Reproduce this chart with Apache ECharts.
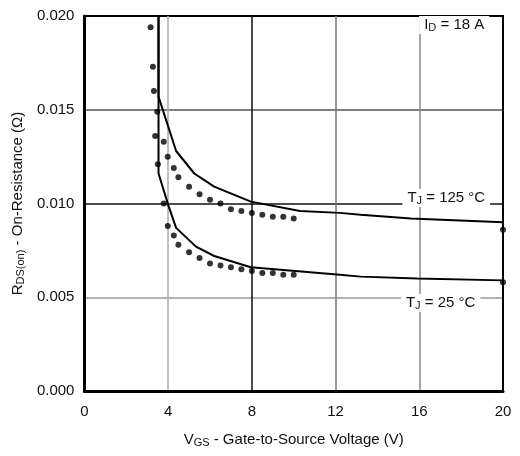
<!DOCTYPE html>
<html><head><meta charset="utf-8">
<script src="https://cdn.jsdelivr.net/npm/echarts@6/dist/echarts.min.js"></script>
<style>html,body{margin:0;padding:0;background:#fff}#c{width:520px;height:456px}</style>
</head><body><div id="c"></div>
<script>
// Tick values
var xTicks = [0, 4, 8, 12, 16, 20];
var yTicks = [0.000, 0.005, 0.010, 0.015, 0.020];
// Typical curves [VGS (V), RDS(on) (ohm)]
var curve125 = [[3.54,0.0200],[3.54,0.0157],[4.38,0.0128],[5.25,0.0116],[6.2,0.0109],[7.95,0.0101],[10.3,0.0096],[12.2,0.0095],[13.2,0.0094],[15.6,0.0092],[20,0.0090]];
var curve25 = [[3.54,0.0200],[3.54,0.0116],[4.01,0.0099],[4.38,0.0087],[5.33,0.0077],[6.2,0.0072],[7.95,0.0066],[12.2,0.0062],[13.2,0.0061],[15.9,0.0060],[20,0.0059]];
// Measured points
var dots125 = [[3.16,0.0194],[3.27,0.0173],[3.32,0.0160],[3.48,0.0149],[3.38,0.0136],[3.79,0.0133],[3.98,0.0125],[4.27,0.0119],[4.49,0.0114],[5.0,0.0109],[5.5,0.0105],[6.0,0.0102],[6.5,0.0100],[7.0,0.0097],[7.5,0.0096],[8.0,0.0095],[8.5,0.0094],[9.0,0.0093],[9.5,0.0093],[10.0,0.0092],[20,0.0086]];
var dots25 = [[3.51,0.0121],[3.79,0.0100],[3.98,0.0088],[4.27,0.0083],[4.49,0.0078],[5.0,0.0074],[5.5,0.0071],[6.0,0.0068],[6.5,0.0067],[7.0,0.0066],[7.5,0.0065],[8.0,0.0064],[8.5,0.0063],[9.0,0.0063],[9.5,0.0062],[10.0,0.0062],[20,0.0058]];
// Annotation positions
var labelPos125 = [17.29, 0.01029];
var labelPos25 = [17.02, 0.00469];
var labelPosID = [17.67, 0.01952];

var FONT = '"Liberation Sans", Arial, Helvetica, sans-serif';
var rich = {
  n: {fontSize: 15, fontFamily: FONT, color: '#111', verticalAlign: 'top', lineHeight: 16},
  s: {fontSize: 11, fontFamily: FONT, color: '#111', verticalAlign: 'bottom', padding: [7,0,0,0], lineHeight: 12}
};
function note(pos, txt) {
  return {coord: pos, symbol: 'circle', symbolSize: 2, itemStyle: {color: 'rgba(0,0,0,0)'},
    label: {show: true, position: 'inside', formatter: txt,
    backgroundColor: '#fff', padding: [1,5,1,5], rich: rich}};
}
var chart = echarts.init(document.getElementById('c'), null, {renderer: 'canvas'});
chart.setOption({
  animation: false,
  backgroundColor: '#fff',
  grid: {left: 83, right: 17, top: 16, bottom: 65, show: true, borderColor: '#000', borderWidth: 2, backgroundColor: 'transparent'},
  xAxis: {
    type: 'value', min: xTicks[0], max: xTicks[xTicks.length-1], interval: 4,
    axisLine: {show: true, onZero: false, lineStyle: {color: '#000', width: 3}},
    axisTick: {show: false},
    axisLabel: {color: '#111', fontSize: 15, fontFamily: FONT, margin: 13},
    splitLine: {show: true, lineStyle: {width: 1.5, color: ['#000', '#aaa', '#111', '#777', '#888', '#000']}},
    name: '{n|V}{s|GS}{n| - Gate-to-Source Voltage (V)}',
    nameLocation: 'middle', nameGap: 41,
    nameTextStyle: {rich: rich}
  },
  yAxis: {
    type: 'value', min: yTicks[0], max: yTicks[yTicks.length-1], interval: 0.005,
    axisLine: {show: true, onZero: false, lineStyle: {color: '#000', width: 3}},
    axisTick: {show: false},
    axisLabel: {color: '#111', fontSize: 15, fontFamily: FONT, margin: 10, formatter: function(v){return v.toFixed(3);}},
    splitLine: {show: true, lineStyle: {width: 1.5, color: ['#000', '#999', '#111', '#555', '#000']}},
    name: '{n|R}{s|DS(on)}{n| - On-Resistance (Ω)}',
    nameLocation: 'middle', nameGap: 56,
    nameTextStyle: {rich: rich}
  },
  series: [
    {type: 'line', data: curve125, symbol: 'none', lineStyle: {color: '#000', width: 2}, z: 3,
     markPoint: {silent: true, data: [note(labelPos125, '{n|T}{s|J}{n| = 125 °C}'), note(labelPosID, '{n|I}{s|D}{n| = 18 A}')]}},
    {type: 'line', data: curve25, symbol: 'none', lineStyle: {color: '#000', width: 2}, z: 3,
     markPoint: {silent: true, data: [note(labelPos25, '{n|T}{s|J}{n| = 25 °C}')]}},
    {type: 'scatter', data: dots125, symbol: 'circle', symbolSize: 6, itemStyle: {color: '#000'}, z: 4},
    {type: 'scatter', data: dots25, symbol: 'circle', symbolSize: 6, itemStyle: {color: '#000'}, z: 4}
  ]
});
</script></body></html>
